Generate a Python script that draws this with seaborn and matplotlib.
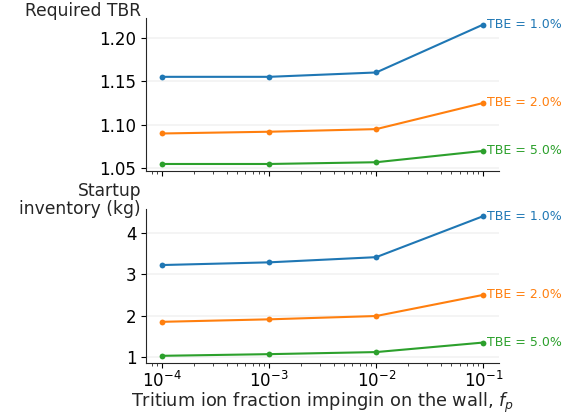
import numpy as np
import pandas as pd
import matplotlib
matplotlib.use("Agg")
import matplotlib.pyplot as plt
import seaborn as sns

# Tritium ion fraction impinging on the wall
f_p = [1e-4, 1e-3, 1e-2, 1e-1]
tbe_levels = ["1.0%", "2.0%", "5.0%"]

# Required tritium breeding ratio per TBE level
tbr_tbe1 = [1.155, 1.155, 1.160, 1.215]
tbr_tbe2 = [1.090, 1.092, 1.095, 1.125]
tbr_tbe5 = [1.055, 1.055, 1.057, 1.070]

# Startup inventory (kg) per TBE level
inv_tbe1 = [3.22, 3.285, 3.41, 4.40]
inv_tbe2 = [1.85, 1.91, 1.99, 2.50]
inv_tbe5 = [1.03, 1.07, 1.12, 1.35]

rows = []
for tbe, tbr, inv in zip(tbe_levels, [tbr_tbe1, tbr_tbe2, tbr_tbe5],
                         [inv_tbe1, inv_tbe2, inv_tbe5]):
    for x, a, b in zip(f_p, tbr, inv):
        rows.append({"f_p": x, "TBE": tbe, "tbr": a, "inventory": b})
df = pd.DataFrame(rows)

sns.set_theme(style="ticks")
plt.rcParams["font.family"] = ["DejaVu Sans"]
plt.rcParams["font.size"] = 12
for axis in ("xtick", "ytick"):
    plt.rcParams[f"{axis}.major.size"] = 3.5
    plt.rcParams[f"{axis}.minor.size"] = 2.0
    plt.rcParams[f"{axis}.major.width"] = 0.8
    plt.rcParams[f"{axis}.minor.width"] = 0.6
plt.rcParams["axes.linewidth"] = 0.8

palette = ["#1f77b4", "#ff7f0e", "#2ca02c"]

fig = plt.figure(figsize=(5.73, 4.19), dpi=100)
ax1 = fig.add_axes([0.2548, 0.592, 0.6166, 0.364])
ax2 = fig.add_axes([0.2548, 0.134, 0.6166, 0.367], sharex=ax1)

for ax, col in [(ax1, "tbr"), (ax2, "inventory")]:
    sns.lineplot(data=df, x="f_p", y=col, hue="TBE", palette=palette,
                 marker="o", markersize=4.2, markeredgewidth=0,
                 linewidth=1.5, ax=ax, legend=False)
    ax.set_xscale("log")
    ax.grid(axis="y", color="#f2f2f2", linewidth=1.2)
    ax.set_axisbelow(True)
    sns.despine(ax=ax)
    ax.tick_params(labelsize=12, colors="black")
    for tbe, c in zip(tbe_levels, palette):
        sub = df[df["TBE"] == tbe]
        ax.annotate(f"TBE = {tbe}", xy=(sub["f_p"].iloc[-1], sub[col].iloc[-1]),
                    xytext=(2.5, 0), textcoords="offset points",
                    ha="left", va="center", color=c, fontsize=9)

ax1.set_ylim(1.047, 1.222)
ax1.set_yticks([1.05, 1.10, 1.15, 1.20])
ax2.set_ylim(0.86, 4.57)
ax2.set_yticks([1, 2, 3, 4])

plt.setp(ax1.get_xticklabels(), visible=False)
ax1.set_xlabel("")
ax2.set_xticks(f_p)
ax2.tick_params(axis="x", pad=2)
ax2.set_xlabel("Tritium ion fraction impingin on the wall, $f_p$",
               fontsize=12.8, labelpad=0)

ax1.set_ylabel("Required TBR", rotation=0, ha="right", va="bottom", fontsize=12.3)
ax1.yaxis.set_label_coords(-0.014, 0.99)
ax2.set_ylabel("Startup\ninventory (kg)", rotation=0, ha="right", va="bottom",
               fontsize=12.3, multialignment="right", linespacing=1.05)
ax2.yaxis.set_label_coords(-0.014, 0.94)

fig.savefig("out.png", dpi=100)
